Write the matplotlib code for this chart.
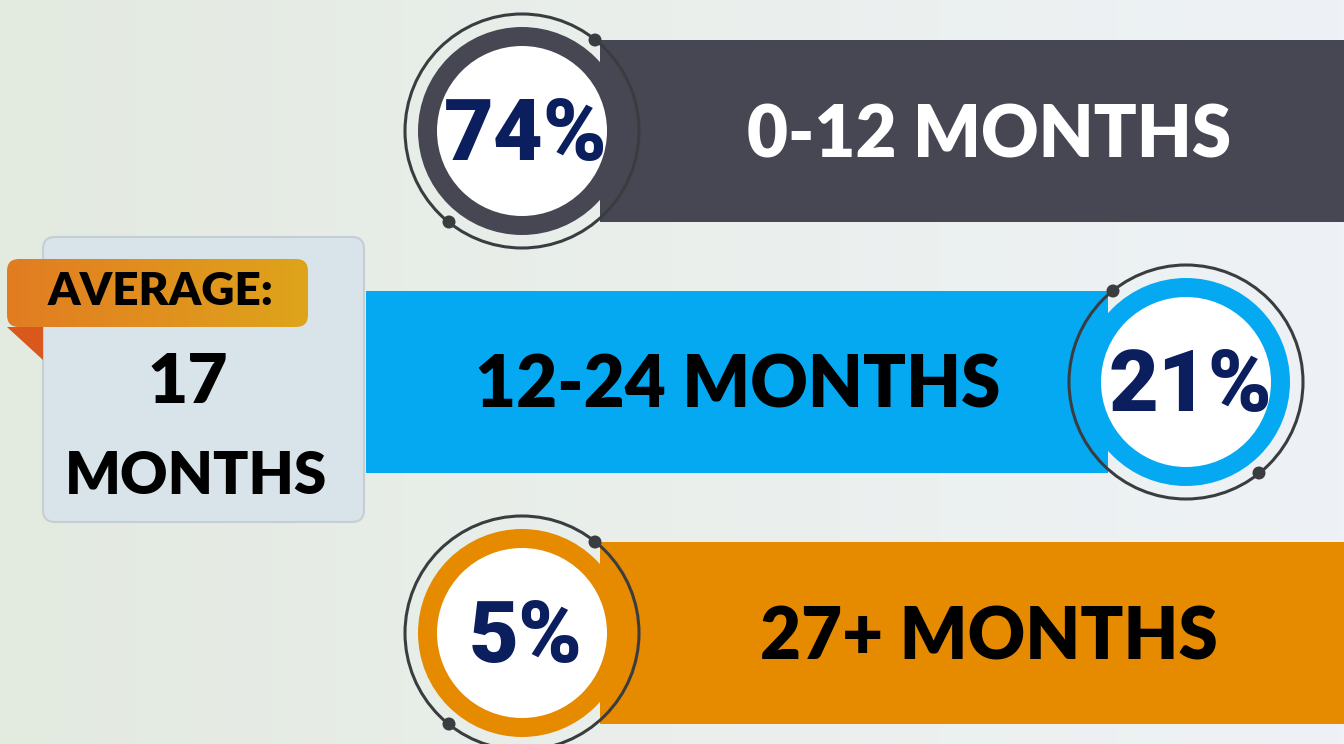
import numpy as np
import matplotlib
matplotlib.use("Agg")
import matplotlib.pyplot as plt
from matplotlib.patches import Circle, Rectangle, FancyBboxPatch, Polygon

# chart data
ranges = ["0-12 MONTHS", "12-24 MONTHS", "27+ MONTHS"]
shares = [74, 21, 5]
bar_colors = ["#474754", "#05A9F2", "#E68A00"]
text_colors = ["white", "black", "black"]
avg_months = 17

W, H = 1344, 744
fig = plt.figure(figsize=(W / 100, H / 100), dpi=100)
ax = fig.add_axes([0, 0, 1, 1])
ax.set_xlim(0, W)
ax.set_ylim(H, 0)
ax.axis("off")

# soft background
grad = np.linspace(0, 1, 256)[None, :]
bg = matplotlib.colors.LinearSegmentedColormap.from_list("bg", ["#E3EAE0", "#EAEFEC", "#EEF2F6"])
ax.imshow(grad, cmap=bg, extent=(0, W, H, 0), aspect="auto", zorder=0)

BIG = ["Lato", "DejaVu Sans"]
PCT = ["Roboto", "DejaVu Sans"]

row_y0, row_step, half_h = 131, 251, 91
r_thin, r_ring, r_in = 117, 104, 85
navy = "#0B1F5E"
ring_line = "#3A3D40"

for i, (lab, pct, col, tcol) in enumerate(zip(ranges, shares, bar_colors, text_colors)):
    cy = row_y0 + i * row_step
    left = i % 2 == 0
    if left:
        cx = 522
        bx0, bx1 = cx + 78, W
        tx = 989
        dots = [(cx + 73, cy - half_h), (cx - 73, cy + half_h)]
    else:
        cx = 1186
        bx0, bx1 = 366, cx - 78
        tx = 738
        dots = [(cx - 73, cy - half_h), (cx + 73, cy + half_h)]
    ax.add_patch(Rectangle((bx0, cy - half_h), bx1 - bx0, 2 * half_h, color=col, lw=0, zorder=2))
    ax.text(tx, cy + 26, lab, color=tcol, fontsize=51, fontweight="heavy", family=BIG,
            ha="center", va="baseline", zorder=3)
    ax.add_patch(Circle((cx, cy), r_thin, fill=False, ec=ring_line, lw=2.2, zorder=4))
    ax.add_patch(Circle((cx, cy), r_ring, color=col, lw=0, zorder=5))
    ax.add_patch(Circle((cx, cy), r_in, color="white", lw=0, zorder=6))
    for dx, dy in dots:
        ax.add_patch(Circle((dx, dy), 6.5, color=ring_line, lw=0, zorder=7))
    ax.text(cx + 4, cy + 29, f"{pct}%", color=navy, fontsize=62, fontweight="black", family=PCT,
            ha="center", va="baseline", zorder=8)

# average card
ax.add_patch(FancyBboxPatch((43, 237), 321, 285, boxstyle="round,pad=0,rounding_size=12",
                            fc="#D9E3EA", ec="#C6CED4", lw=1.5, zorder=2))
ax.add_patch(Polygon([(7, 327), (43, 327), (43, 360)], closed=True, color="#D9581B", lw=0, zorder=3))
ribbon = FancyBboxPatch((7, 259), 301, 68, boxstyle="round,pad=0,rounding_size=12",
                        fc="none", ec="none", zorder=4)
ax.add_patch(ribbon)
rb = matplotlib.colors.LinearSegmentedColormap.from_list("rb", ["#E27C22", "#DEA41B"])
im = ax.imshow(grad, cmap=rb, extent=(7, 308, 327, 259), aspect="auto", zorder=4)
im.set_clip_path(ribbon)
ax.set_xlim(0, W)
ax.set_ylim(H, 0)

ax.text(161, 305, "AVERAGE:", color="black", fontsize=33, fontweight="heavy", family=BIG,
        ha="center", va="baseline", zorder=5)
ax.text(188, 403, str(avg_months), color="black", fontsize=50, fontweight="heavy", family=BIG,
        ha="center", va="baseline", zorder=5)
ax.text(196, 494, "MONTHS", color="black", fontsize=42, fontweight="heavy", family=BIG,
        ha="center", va="baseline", zorder=5)

fig.savefig("out.png", dpi=100)
